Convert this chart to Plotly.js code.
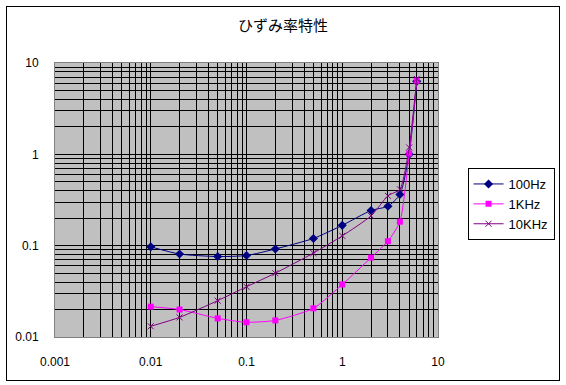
<!DOCTYPE html>
<html><head><meta charset="utf-8">
<script src="https://cdn.plot.ly/plotly-3.0.1.min.js"></script>
<style>
body{margin:0;padding:0;background:#fff;}
#wrap{position:relative;width:566px;height:385px;}
#chart{position:absolute;left:0;top:0;width:566px;height:385px;}
#frame{position:absolute;left:6px;top:6px;width:552px;height:373px;border:1px solid #000;pointer-events:none;}
</style>
</head><body>
<div id="wrap"><div id="chart"></div><div id="frame"></div></div>
<script>
// Data (distortion vs output)
const xValues = [0.01, 0.02, 0.05, 0.1, 0.2, 0.5, 1, 2, 3, 4, 5, 6];
const hz100   = [0.097, 0.081, 0.076, 0.078, 0.092, 0.12, 0.167, 0.243, 0.27, 0.363, 1.0, 6.3];
const khz1    = [0.0215, 0.020, 0.016, 0.0145, 0.0152, 0.0206, 0.0376, 0.074, 0.112, 0.183, 1.02, 6.4];
const khz10   = [0.0131, 0.0164, 0.025, 0.0355, 0.050, 0.083, 0.128, 0.212, 0.351, 0.415, 1.19, 6.7];
const seriesNames = ['100Hz', '1KHz', '10KHz'];
const xDecades = [0.001, 0.01, 0.1, 1, 10];
const xDecadeLabels = ['0.001', '0.01', '0.1', '1', '10'];
const yDecades = [0.01, 0.1, 1, 10];
const yDecadeLabels = ['0.01', '0.1', '1', '10'];

function logTicks(decades, labels){
  const vals = [], text = [];
  decades.forEach((d, i) => {
    vals.push(d); text.push(labels[i]);
    if (i < decades.length - 1) {
      for (let m = 2; m <= 9; m++) { vals.push(+(d * m).toPrecision(6)); text.push(''); }
    }
  });
  return {vals, text};
}
const xt = logTicks(xDecades, xDecadeLabels);
const yt = logTicks(yDecades, yDecadeLabels);

const traces = [
  {x: xValues, y: hz100, name: seriesNames[0], mode: 'lines+markers',
   line: {color: '#000080', width: 1, shape: 'spline', smoothing: 0.6},
   marker: {symbol: 'diamond', size: 7, color: '#000080'}},
  {x: xValues, y: khz1, name: seriesNames[1], mode: 'lines+markers',
   line: {color: '#FF00FF', width: 1, shape: 'spline', smoothing: 0.6},
   marker: {symbol: 'square', size: 6, color: '#FF00FF'}},
  {x: xValues, y: khz10, name: seriesNames[2], mode: 'lines+markers',
   line: {color: '#800080', width: 1, shape: 'spline', smoothing: 0.6},
   marker: {symbol: 'x-thin-open', size: 6, color: '#800080', line: {color: '#800080', width: 1}}}
];

const layout = {
  width: 566, height: 385,
  margin: {l: 55, r: 122, t: 63, b: 48, pad: 0},
  paper_bgcolor: '#ffffff',
  plot_bgcolor: '#C0C0C0',
  font: {family: 'Liberation Sans, Arial, sans-serif', size: 12, color: '#000'},
  title: {text: 'ひずみ率特性', font: {family: 'Noto Sans CJK JP, sans-serif', size: 15, color: '#000'},
          x: 0.5, xref: 'container', xanchor: 'center', y: 1 - 25.5/385, yref: 'container', yanchor: 'middle'},
  xaxis: {type: 'log', range: [-3, 1], tickmode: 'array', tickvals: xt.vals, ticktext: xt.text,
          showgrid: true, gridcolor: '#000', gridwidth: 1, ticks: '', zeroline: false,
          showline: true, linecolor: '#808080', linewidth: 1, mirror: true,
          ticklabelstandoff: 14, fixedrange: true},
  yaxis: {type: 'log', range: [-2, 1], tickmode: 'array', tickvals: yt.vals, ticktext: yt.text,
          showgrid: true, gridcolor: '#000', gridwidth: 1, ticks: '', zeroline: false,
          showline: true, linecolor: '#808080', linewidth: 1, mirror: true,
          ticklabelstandoff: 13, fixedrange: true},
  showlegend: true,
  legend: {x: (474-55)/389, y: (337-168)/274, xanchor: 'left', yanchor: 'top',
           bordercolor: '#000', borderwidth: 1, bgcolor: '#fff',
           font: {family: 'Liberation Sans, Arial, sans-serif', size: 13, color: '#000'},
           tracegroupgap: 0, itemwidth: 30}
};

Plotly.newPlot('chart', traces, layout, {staticPlot: true, displayModeBar: false});
</script>
</body></html>
